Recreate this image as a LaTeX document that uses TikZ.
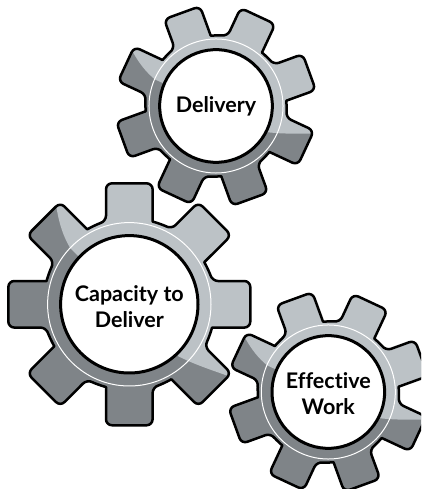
\documentclass[tikz,border=0pt]{standalone}
\usepackage{fontspec}
\setmainfont[Ligatures=NoCommon]{Lato}
\definecolor{gearlight}{HTML}{BCC2C6}
\definecolor{geardark}{HTML}{7F8488}
\tikzset{
  gearedge/.style={draw=black,line width=2.5pt,line join=round},
  hubcircle/.style={draw=black,fill=white,line width=3pt},
  ringline/.style={draw=white,line width=1pt},
  gearlabel/.style={align=center,font=\bfseries\fontsize{21.5}{26}\selectfont,text=black,inner sep=0pt}
}
\newcommand{\gearTooth}[1]{
  [rounded corners=6pt] -- ({#1-10.9}:123.2) -- ({#1+10.9}:123.2) -- ({#1+15.7}:86) [sharp corners]
  arc[start angle={#1+15.7}, end angle={#1+29.3}, radius=86]
}
\newcommand{\gearOutline}{
  (-15.7:86) \gearTooth{0} \gearTooth{45} \gearTooth{90} \gearTooth{135}
  \gearTooth{180} \gearTooth{225} \gearTooth{270} \gearTooth{315} -- cycle
}
\newcommand{\drawGear}[7]{%
  \begin{scope}[shift={(#1,#2)},scale=#3,rotate=#4]
    \fill[geardark] \gearOutline;
    \begin{scope}
      \clip \gearOutline;
      \fill[gearlight] (-72.7,96) .. controls (-70,80) and (-66,68) .. (-59,56)
        -- (49,-52) .. controls (65,-60) and (80,-65) .. (97,-71) -- (140,-71) -- (140,140) -- (-72.7,140) -- cycle;
    \end{scope}
    \draw[gearedge] \gearOutline;
    \path[hubcircle] (0,0) circle[radius=68.7];
    \path[ringline] (0,0) circle[radius=81.7];
  \end{scope}
  \node[gearlabel] (#5) at (#1,#2+#7) {#6};
}
\begin{document}
\begin{tikzpicture}[x=1pt,y=1pt]
  \useasboundingbox (0,0) rectangle (421,489);
  \clip (0,0) rectangle (421,489);
  \drawGear{216}{383}{0.82}{20}{delivery}{Delivery}{0}
  \drawGear{129.3}{184.7}{1}{0}{capacity}{Capacity to\\Deliver}{-2}
  \drawGear{328.3}{97}{0.82}{20}{effective}{Effective\\Work}{-2}
\end{tikzpicture}
\end{document}
